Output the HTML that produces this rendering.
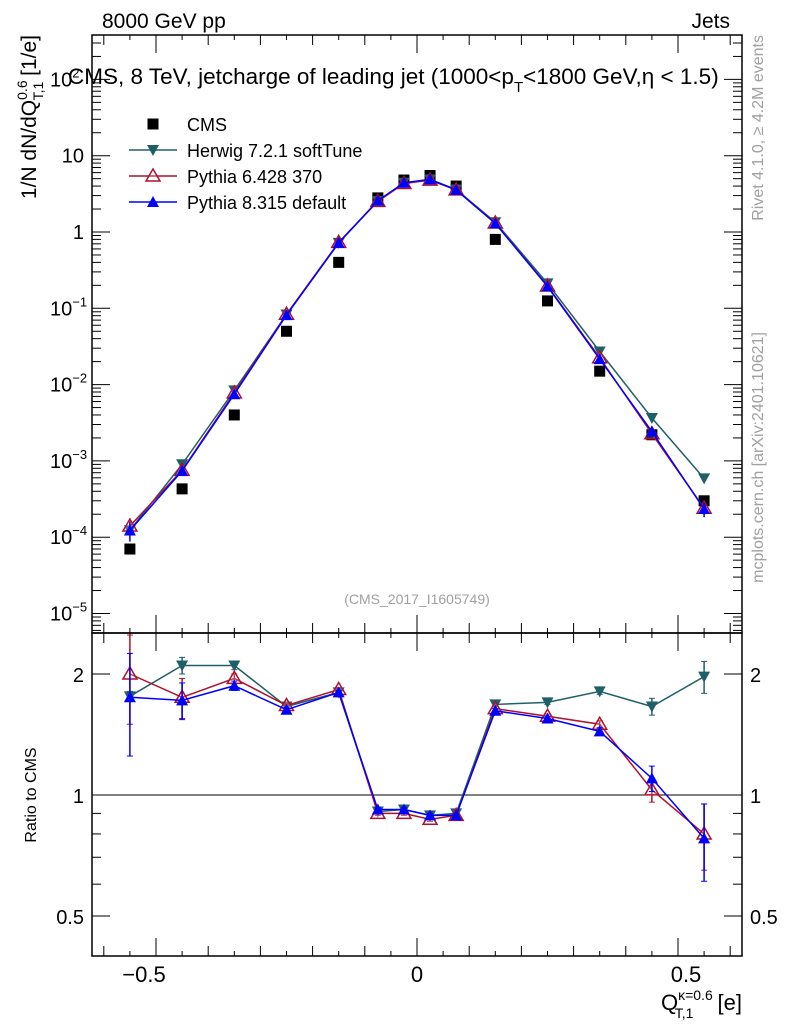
<!DOCTYPE html>
<html><head><meta charset="utf-8"><style>
body{margin:0;background:#fff}
svg{display:block;font-family:"Liberation Sans",sans-serif}
</style></head><body>
<svg id="chart" width="786" height="1024" xmlns="http://www.w3.org/2000/svg"></svg>
<script>
const binX=[-0.55,-0.45,-0.35,-0.25,-0.15,-0.075,-0.025,0.025,0.075,0.15,0.25,0.35,0.45,0.55];
const cmsVals=[7e-5,4.3e-4,4e-3,0.05,0.4,2.8,4.8,5.5,4.0,0.8,0.125,0.015,2.2e-3,3e-4];
const herwigRatio=[1.76,2.1,2.1,1.66,1.8,0.91,0.92,0.89,0.9,1.68,1.7,1.81,1.66,1.97];
const py6Ratio=[2.0,1.75,1.95,1.67,1.83,0.9,0.9,0.87,0.89,1.64,1.57,1.50,1.03,0.80];
const py8Ratio=[1.75,1.72,1.87,1.63,1.8,0.92,0.92,0.89,0.89,1.62,1.55,1.44,1.1,0.78];
const herwigErr=[0.05,0.1,0.05,0.02,0.02,0.01,0.01,0.01,0.01,0.02,0.02,0.03,0.08,0.18];
const py6Err=[0.5,0.2,0.05,0.02,0.02,0.01,0.01,0.01,0.01,0.02,0.02,0.03,0.07,0.15];
const py8Err=[0.5,0.18,0.05,0.02,0.02,0.01,0.01,0.01,0.01,0.02,0.02,0.03,0.08,0.17];
const xTicks=[-0.5,0,0.5];
const xTickLabels=["\u22120.5","0","0.5"];

const svg=document.getElementById('chart');
const NS='http://www.w3.org/2000/svg';
const L=92,R=742,T=35,M=633,B=956;
const X=v=>417+v*522;
const Y=v=>232-76.3*Math.log10(v);
const YR=r=>795-121*Math.log2(r);
function el(tag,attrs,parent){const e=document.createElementNS(NS,tag);for(const k in attrs)e.setAttribute(k,attrs[k]);(parent||svg).appendChild(e);return e;}
function txt(s,attrs,parent){const e=el('text',attrs,parent);e.textContent=s;return e;}

let f1=el('rect',{x:L,y:T,width:R-L,height:M-T,fill:'none',stroke:'#000','stroke-width':1.5});


let f2=el('rect',{x:L,y:M,width:R-L,height:B-M,fill:'none',stroke:'#000','stroke-width':1.5});



for(let v=-0.6;v<=0.601;v+=0.05){
  const big=Math.abs(Math.round(v*2)-v*2)<1e-6;
  const mid=Math.abs(Math.round(v*10)-v*10)<1e-6;
  const len=big?18:(mid?10:5);
  const x=X(v);
  for(const [yb,dir] of [[M,-1],[T,1],[B,-1],[M,1]]){
    el('line',{x1:x,x2:x,y1:yb,y2:yb+dir*len,stroke:'#000','stroke-width':1});
  }
}
xTicks.forEach((v,i)=>{
  const t=txt(xTickLabels[i],{x:X(v)+(v<0?-12:(v>0?8:0)),y:982,'font-size':22,'text-anchor':'middle'});
  
  
});
let xt=el('text',{x:742,y:1010,'font-size':22,'text-anchor':'end'});


xt.innerHTML='Q<tspan font-size="14" dy="-10">\u03ba=0.6</tspan><tspan font-size="14" dx="-38" dy="18">T,1</tspan><tspan dy="-8" dx="18"> [e]</tspan>';

for(let d=-6;d<=2;d++){
  for(let k=1;k<10;k++){
    const v=k*Math.pow(10,d);const y=Y(v);
    if(y<T||y>M)continue;
    const len=k===1?18:9;
    el('line',{x1:L,x2:L+len,y1:y,y2:y,stroke:'#000'});
    el('line',{x1:R,x2:R-len,y1:y,y2:y,stroke:'#000'});
  }
}
const yLab=[[2,'10<tspan font-size="13" dy="-9">2</tspan>'],[1,'10'],[0,'1'],[-1,'10<tspan font-size="13" dy="-9">\u22121</tspan>'],[-2,'10<tspan font-size="13" dy="-9">\u22122</tspan>'],[-3,'10<tspan font-size="13" dy="-9">\u22123</tspan>'],[-4,'10<tspan font-size="13" dy="-9">\u22124</tspan>'],[-5,'10<tspan font-size="13" dy="-9">\u22125</tspan>']];
yLab.forEach(([d,h])=>{
  const neg=d<0||d==2;
  const t=el('text',{x:neg?50:84,y:Y(Math.pow(10,d))+7,'font-size':20,'text-anchor':neg?'start':'end'});
  t.innerHTML=h;
  
  
});
let yt=el('text',{x:0,y:0,'font-size':21,'text-anchor':'end',transform:'translate(36,35) rotate(-90)'});


yt.innerHTML='1/N dN/dQ<tspan font-size="14" dy="-9">0.6</tspan><tspan font-size="14" dx="-20" dy="16">T,1</tspan><tspan dy="-7"> [1/e]</tspan>';

[0.5,0.6,0.7,0.8,0.9,1,2].forEach(v=>{
  const y=YR(v);const len=(v==0.5||v==1||v==2)?18:9;
  el('line',{x1:L,x2:L+len,y1:y,y2:y,stroke:'#000'});
  el('line',{x1:R,x2:R-len,y1:y,y2:y,stroke:'#000'});
});
[0.5,1,2].forEach(v=>{
  const s=String(v);
  let t=txt(s,{x:84,y:YR(v)+8,'font-size':20,'text-anchor':'end'});
  
  
  t=txt(s,{x:750,y:YR(v)+8,'font-size':20});
  
  
});
let rt=txt('Ratio to CMS',{x:0,y:0,'font-size':16,'text-anchor':'middle',transform:'translate(36,795) rotate(-90)'});


let one=el('line',{x1:L,x2:R,y1:YR(1),y2:YR(1),stroke:'#000'});



let t1=txt('8000 GeV pp',{x:102,y:28,'font-size':21});

let t2=txt('Jets',{x:730,y:28,'font-size':21,'text-anchor':'end'});

let t3=el('text',{x:68,y:84,'font-size':22.5});
t3.innerHTML='CMS, 8 TeV, jetcharge of leading jet (1000&lt;p<tspan font-size="15" dy="8">T</tspan><tspan dy="-8">&lt;1800 GeV,\u03b7 &lt; 1.5)</tspan>';

let t4=txt('(CMS_2017_I1605749)',{x:417,y:604,'font-size':14,fill:'#a0a0a0','text-anchor':'middle'});

let t5=txt('Rivet 4.1.0, \u2265 4.2M events',{x:0,y:0,'font-size':16,fill:'#a0a0a0','text-anchor':'end',transform:'translate(763,35) rotate(-90)'});

let t6=txt('mcplots.cern.ch [arXiv:2401.10621]',{x:0,y:0,'font-size':16,fill:'#a0a0a0','text-anchor':'end',transform:'translate(763,332) rotate(-90)'});


function marker(type,x,y,color,g){
  if(type==='sq')return el('rect',{x:x-5.5,y:y-5.5,width:11,height:11,fill:'#000'},g);
  if(type==='down')return el('polygon',{points:`${x-6},${y-5} ${x+6},${y-5} ${x},${y+6}`,fill:color},g);
  if(type==='upo')return el('polygon',{points:`${x-7},${y+5} ${x+7},${y+5} ${x},${y-7}`,fill:'#fff','fill-opacity':0.2,stroke:color,'stroke-width':1.5},g);
  return el('polygon',{points:`${x-6},${y+5} ${x+6},${y+5} ${x},${y-6}`,fill:color},g);
}

const series=[
  {name:'herwig',ratio:herwigRatio,err:herwigErr,color:'#1f6068',m:'down',label:'Herwig 7.2.1 softTune'},
  {name:'pythia6',ratio:py6Ratio,err:py6Err,color:'#b0102c',m:'upo',label:'Pythia 6.428 370'},
  {name:'pythia8',ratio:py8Ratio,err:py8Err,color:'#0000ff',m:'up',label:'Pythia 8.315 default'}
];

const gc=el('g',{});

binX.forEach((x,i)=>{
  const m=marker('sq',X(x),Y(cmsVals[i]),'#000',gc);
  
  
});

series.forEach(s=>{
  const g=el('g',{});
  
  
  const pts=binX.map((x,i)=>X(x)+','+Y(cmsVals[i]*s.ratio[i])).join(' ');
  const pl=el('polyline',{points:pts,fill:'none',stroke:s.color,'stroke-width':1.5},g);
  
  
  const rpts=binX.map((x,i)=>X(x)+','+YR(s.ratio[i])).join(' ');
  const rl=el('polyline',{points:rpts,fill:'none',stroke:s.color,'stroke-width':1.5},g);
  
  
  binX.forEach((x,i)=>{
    const r=s.ratio[i],e=s.err[i];
    const y1=YR(r+e),y2=YR(Math.max(r-e,0.3));
    el('line',{x1:X(x),x2:X(x),y1:Math.max(y1,M),y2:y2,stroke:s.color,'stroke-width':1.5},g);
    el('line',{x1:X(x)-3,x2:X(x)+3,y1:Math.max(y1,M),y2:Math.max(y1,M),stroke:s.color},g);
    el('line',{x1:X(x)-3,x2:X(x)+3,y1:y2,y2:y2,stroke:s.color},g);
    const fy1=Y(cmsVals[i]*(r+e)),fy2=Y(cmsVals[i]*Math.max(r-e,0.3));
    el('line',{x1:X(x),x2:X(x),y1:fy1,y2:fy2,stroke:s.color,'stroke-width':1.5},g);
    const m=marker(s.m,X(x),Y(cmsVals[i]*r),s.color,g);
    
    
    const m2=marker(s.m,X(x),YR(r),s.color,g);
    
    
  });
});

const lg=el('g',{});

const ly=[124,150,176,202];
marker('sq',153,ly[0],'#000',lg);
let le=txt('CMS',{x:187,y:ly[0]+7,'font-size':18},lg);

series.forEach((s,i)=>{
  const y=ly[i+1];
  el('line',{x1:129,x2:177,y1:y,y2:y,stroke:s.color,'stroke-width':1.5},lg);
  marker(s.m,153,y,s.color,lg);
  const t=txt(s.label,{x:187,y:y+7,'font-size':18},lg);
  
  
});
</script>
</body></html>
